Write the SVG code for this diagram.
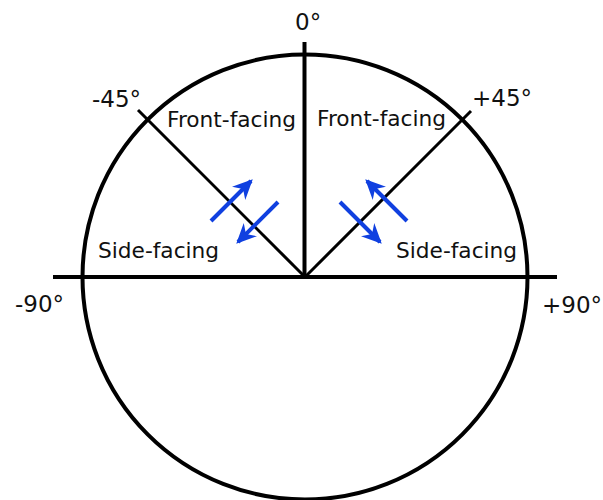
<svg xmlns="http://www.w3.org/2000/svg" width="603" height="500" viewBox="0 0 603 500">
  <style>
    .lbl { font-family: "DejaVu Sans", Verdana, sans-serif; font-size: 21.7px; fill: #111; }
    .deg { font-size: 23px; }
    .axis { stroke: #000; stroke-width: 4; fill: none; }
    .diag { stroke: #000; stroke-width: 3; fill: none; }
    .arr { stroke: #1040e0; stroke-width: 4; fill: none; marker-end: url(#ah); }
  </style>
  <defs>
    <marker id="ah" markerUnits="userSpaceOnUse" markerWidth="20" markerHeight="20" viewBox="-14 -8 16 16" refX="0" refY="0" orient="auto">
      <path d="M2,0 L-14,-7.5 L-9,0 L-14,7.5 Z" fill="#1040e0"/>
    </marker>
  </defs>
  <rect width="603" height="500" fill="#fff"/>
  <g id="frame">
    <circle cx="305" cy="277" r="222.5" class="axis"/>
    <line x1="53" y1="277" x2="557" y2="277" class="axis"/>
    <line x1="304.5" y1="42" x2="304.5" y2="277" class="axis"/>
    <line x1="305" y1="277" x2="138" y2="110" class="diag"/>
    <line x1="305" y1="277" x2="471" y2="111" class="diag"/>
  </g>
  <g id="connectors">
    <line x1="211" y1="221" x2="251" y2="181" class="arr"/>
    <line x1="278" y1="202" x2="238" y2="242" class="arr"/>
    <line x1="407" y1="221" x2="367" y2="181" class="arr"/>
    <line x1="340" y1="202" x2="380" y2="242" class="arr"/>
  </g>
  <g id="labels">
    <text class="lbl deg" x="295" y="30">0°</text>
    <text class="lbl deg" x="92" y="107">-45°</text>
    <text class="lbl deg" x="472" y="106">+45°</text>
    <text class="lbl deg" x="15" y="312">-90°</text>
    <text class="lbl deg" x="542" y="313">+90°</text>
    <text class="lbl" x="167" y="127">Front-facing</text>
    <text class="lbl" x="317" y="126">Front-facing</text>
    <text class="lbl" x="98" y="258">Side-facing</text>
    <text class="lbl" x="396" y="258">Side-facing</text>
  </g>
</svg>
